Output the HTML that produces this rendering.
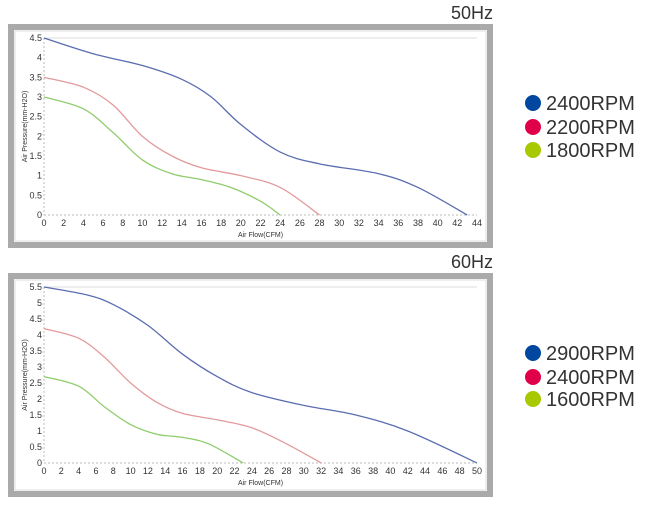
<!DOCTYPE html>
<html><head><style>
body{margin:0;background:#fff;width:650px;height:500px;overflow:hidden;font-family:"Liberation Sans",sans-serif}
</style></head><body>
<svg id="s" width="650" height="500" xmlns="http://www.w3.org/2000/svg" font-family="Liberation Sans, sans-serif"></svg>
<script>
const s=document.getElementById('s');let h='';
function sm(pts){let d='M'+pts[0][0]+','+pts[0][1];for(let i=0;i<pts.length-1;i++){const p0=pts[i-1]||pts[i],p1=pts[i],p2=pts[i+1],p3=pts[i+2]||p2;
d+=' C'+(p1[0]+(p2[0]-p0[0])/6)+','+(p1[1]+(p2[1]-p0[1])/6)+' '+(p2[0]-(p3[0]-p1[0])/6)+','+(p2[1]-(p3[1]-p1[1])/6)+' '+p2[0]+','+p2[1];}return d;}
function chart(o){
 const {top,bot,x0,x1,xmax,y0,y1,ymax,title,ty,leg,ly,curves}=o;
 h+=`<rect x="11" y="${top+3}" width="479" height="${bot-top-6}" fill="#fff" stroke="#aaa" stroke-width="6"/>`;
 h+=`<rect x="15" y="${top+7}" width="471" height="${bot-top-14}" fill="none" stroke="#ddd" stroke-width="1"/>`;
 h+=`<text x="493" y="${ty}" font-size="18" fill="#333" text-anchor="end">${title}</text>`;
 const X=v=>x0+(x1-x0)*v/xmax,Y=v=>y0-(y0-y1)*v/ymax;
 h+=`<line x1="${x0}" y1="${y1}" x2="${x1}" y2="${y1}" stroke="#ddd"/>`;
 h+=`<line x1="${x0}" y1="${y0}" x2="${x1}" y2="${y0}" stroke="#bbb" stroke-dasharray="2,2"/>`;
 h+=`<line x1="${x0}" y1="${y1}" x2="${x0}" y2="${y0}" stroke="#bbb" stroke-dasharray="2,2"/>`;
 for(let v=0;v<=xmax;v+=2)h+=`<text x="${X(v)}" y="${y0+11}" font-size="9" fill="#333" text-anchor="middle">${v}</text>`;
 for(let v=0;v<=ymax+0.01;v+=0.5)h+=`<text x="${x0-2}" y="${Y(v)+3}" font-size="9" fill="#333" text-anchor="end">${v}</text>`;
 h+=`<text x="${(x0+x1)/2}" y="${y0+22}" font-size="7" fill="#333" text-anchor="middle">Air Flow(CFM)</text>`;
 h+=`<text transform="translate(27,${(y0+y1)/2}) rotate(-90)" font-size="7" fill="#333" text-anchor="middle">Air Pressure(mm-H2O)</text>`;
 const lc=['#5a6db0','#e29a9c','#8fcc6c'],dc=['#0047a0','#e0004a','#a8c800'];
 curves.forEach((c,i)=>{h+=`<path d="${sm(c.map(p=>[X(p[0]),Y(p[1])]))}" fill="none" stroke="${lc[i]}" stroke-width="1.3"/>`;
 h+=`<circle cx="533" cy="${ly[i]}" r="8" fill="${dc[i]}"/><text x="546" y="${ly[i]+7}" font-size="20" fill="#333">${leg[i]}</text>`;});
}
chart({top:24,bot:248,x0:44,x1:477,xmax:44,y0:215,y1:38,ymax:4.5,title:'50Hz',ty:19,leg:['2400RPM','2200RPM','1800RPM'],ly:[103,127,150],
curves:[[[0,4.5],[5,4.1],[10,3.8],[14,3.45],[17,3.0],[20,2.3],[24,1.6],[28,1.3],[34,1.05],[38,0.7],[43,0]],
[[0,3.5],[4,3.25],[7,2.8],[10,2.0],[13,1.5],[16,1.2],[20,1.0],[24,0.7],[28,0]],
[[0,3.0],[4,2.7],[7,2.1],[10,1.4],[13,1.05],[16,0.9],[19,0.7],[22,0.35],[24,0]]]});
chart({top:273,bot:497,x0:44,x1:477,xmax:50,y0:463,y1:287,ymax:5.5,title:'60Hz',ty:268,leg:['2900RPM','2400RPM','1600RPM'],ly:[353,377,399],
curves:[[[0,5.5],[5,5.25],[8,4.95],[12,4.3],[16,3.4],[20,2.7],[24,2.2],[30,1.8],[36,1.5],[42,1.0],[50,0]],
[[0,4.2],[4,3.9],[7,3.3],[10,2.5],[13,1.9],[16,1.55],[20,1.35],[24,1.1],[28,0.6],[32,0]],
[[0,2.7],[4,2.4],[7,1.75],[10,1.2],[13,0.9],[16,0.8],[19,0.6],[23,0]]]});
s.innerHTML=h;
</script>
</body></html>
